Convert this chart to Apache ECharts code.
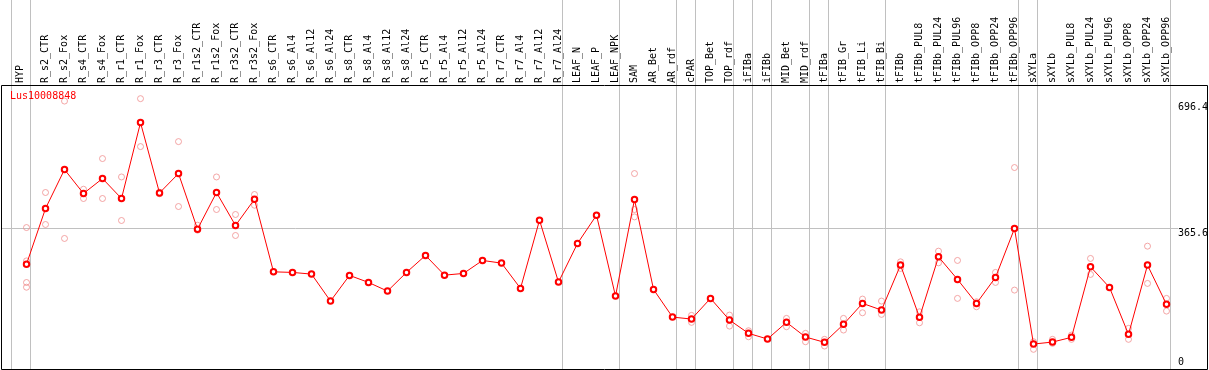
<!DOCTYPE html>
<html><head><meta charset="utf-8">
<script src="https://cdn.jsdelivr.net/npm/echarts@6/dist/echarts.min.js"></script>
<style>html,body{margin:0;padding:0;background:#fff}#c{width:1209px;height:370px}</style>
</head><body><div id="c"></div>
<script>
const chartTitle = 'Lus10008848';
const categories = ['HYP','R_s2_CTR','R_s2_Fox','R_s4_CTR','R_s4_Fox','R_r1_CTR','R_r1_Fox','R_r3_CTR','R_r3_Fox','R_r1s2_CTR','R_r1s2_Fox','R_r3s2_CTR','R_r3s2_Fox','R_s6_CTR','R_s6_Al4','R_s6_Al12','R_s6_Al24','R_s8_CTR','R_s8_Al4','R_s8_Al12','R_s8_Al24','R_r5_CTR','R_r5_Al4','R_r5_Al12','R_r5_Al24','R_r7_CTR','R_r7_Al4','R_r7_Al12','R_r7_Al24','LEAF_N','LEAF_P','LEAF_NPK','SAM','AR_Bet','AR_rdf','cPAR','TOP_Bet','TOP_rdf','iFIBa','iFIBb','MID_Bet','MID_rdf','tFIBa','tFIB_Gr','tFIB_Li','tFIB_Bi','tFIBb','tFIBb_PUL8','tFIBb_PUL24','tFIBb_PUL96','tFIBb_OPP8','tFIBb_OPP24','tFIBb_OPP96','sXYLa','sXYLb','sXYLb_PUL8','sXYLb_PUL24','sXYLb_PUL96','sXYLb_OPP8','sXYLb_OPP24','sXYLb_OPP96'];
const means = [274.8,416.5,515.8,454.7,492.9,442.0,635.4,456.2,505.6,363.9,457.3,373.3,440.2,255.2,253.7,249.4,180.7,246.1,228.2,206.1,253.7,297.0,246.8,251.1,284.2,277.4,213.0,386.8,229.0,327.5,399.5,193.4,439.4,210.4,139.9,134.9,187.5,132.3,98.5,84.0,126.5,89.1,75.6,121.4,174.8,157.8,272.3,139.2,293.4,235.9,174.8,241.0,365.6,71.2,76.3,88.3,267.9,215.5,95.9,272.3,172.3];
const replicates = [
  [368,283,228,216],[457.3,375.8],[690.3,340.2],[465.6,442.0],[543.8,442.0],[496.9,386.0],[696.4,574.3],[458,454],[587.0,421.6],[374.0,361.3],[496.9,414.0],[401.3,347.8],[452.2,424.9],
  [],[],[],[],[],[],[],[],[],[],[],[],[],[],[],[],[],[],[],
  [505.6,414.0,395.2],[],[],[144.3,126.5],[],[145.0,117.0],[105.1,89.8],[],[136.6,115.3],[98.5,77.1],[83.2,66.2],[136.6,106.9],[185.8,150.9],[180.7,146.8],
  [280.7,263.9],[153.4,125.4],[307.9,278.1],[284.2,187.5],[178.9,166.2],[253.7,228.2],[520.9,208.7],
  [77.1,57.8],[83.2,73.0],[94.1,83.2],[289.3,248.6],[],[111.2,83.2],[320.6,225.7],[187.5,155.2]
];
const groupEnds = [-1,0,28,31,34,35,37,38,39,41,42,45,52,53,60];
const refValue = 365.6;
const yTickValues = [696.4, 365.6, 0];
const yTickLabels = ['696.4', '365.6', '0'];

const FONT = 'DejaVu Sans Mono';
const chart = echarts.init(document.getElementById('c'), null, {renderer: 'canvas'});
const PX = 19;
const gridLeft = 1, gridRight = 1178, gridTop = 0, gridBottom = 372;
const firstX = 26.5;
const xMin = -(firstX - gridLeft) / PX;
const xMax = xMin + (gridRight - gridLeft) / PX;
const yScale = 0.39251;
const yMax = (gridBottom - gridTop) / yScale;

const meanData = means.map((v, i) => [i, v]);
const repData = [];
replicates.forEach((arr, i) => arr.forEach(v => repData.push([i, v])));
const sepData = groupEnds.map(g => ({xAxis: g + 4 / PX}));

const option = {
  animation: false,
  title: {text: chartTitle, left: 10, top: 91, padding: 0,
    textStyle: {color: '#ff0000', fontSize: 10, fontFamily: FONT, fontWeight: 'normal'}},
  grid: {left: gridLeft, top: gridTop, width: gridRight - gridLeft, height: gridBottom - gridTop,
    outerBoundsMode: 'none', containLabel: false, show: false},
  xAxis: {type: 'value', min: xMin, max: xMax, position: 'top', offset: -85,
    axisLine: {show: false}, axisTick: {show: false}, splitLine: {show: false},
    axisLabel: {customValues: categories.map((c, i) => i),
      formatter: v => { const i = Math.round(v); const n = categories[i] || ''; return i === 0 ? '{first|' + n + '}' : n; },
      rich: {first: {padding: [0, 0, 12, 0], fontFamily: FONT, fontSize: 10, color: '#000'}},
      rotate: 90, margin: 2, fontFamily: FONT, fontSize: 10, color: '#000', hideOverlap: false}},
  yAxis: {type: 'value', min: 0, max: yMax, show: false},
  series: [
    {type: 'scatter', data: repData, symbol: 'circle', symbolSize: 6, z: 2, silent: true,
      itemStyle: {color: 'rgba(0,0,0,0)', borderColor: '#f09090', borderWidth: 1},
      markLine: {silent: true, symbol: ['none', 'none'], z: 1, animation: false, label: {show: false},
        lineStyle: {color: '#c0c0c0', width: 1, type: 'solid'},
        emphasis: {disabled: true},
        data: sepData.concat([{yAxis: refValue}])}},
    {type: 'line', data: meanData, symbol: 'emptyCircle', symbolSize: 5.5, showAllSymbol: true, z: 3, silent: true,
      lineStyle: {color: '#ff0000', width: 1},
      itemStyle: {color: '#ff0000', borderColor: '#ff0000', borderWidth: 1.5}}
  ]
};
chart.setOption(option);

const labelOffsets = [8.3, 4.5, -9.5];
const graphics = [{type: 'rect', z: 100, silent: true,
  shape: {x: 1.5, y: 85.5, width: 1206, height: 284},
  style: {fill: 'none', stroke: '#000', lineWidth: 1}}];
yTickValues.forEach((v, k) => {
  const py = chart.convertToPixel({yAxisIndex: 0}, v);
  graphics.push({type: 'text', z: 100, silent: true, x: 1178, y: py + labelOffsets[k],
    style: {text: yTickLabels[k], fill: '#000', font: '10px "' + FONT + '"', textAlign: 'left', textVerticalAlign: 'middle'}});
});
chart.setOption({graphic: graphics});
</script>
</body></html>
